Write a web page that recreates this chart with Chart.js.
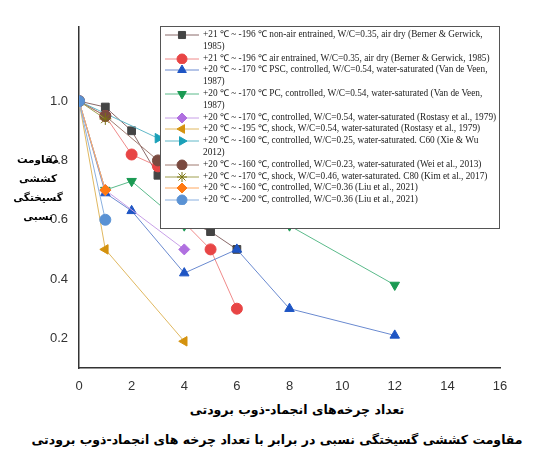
<!DOCTYPE html><html><head><meta charset="utf-8">
<script src="https://cdn.jsdelivr.net/npm/chart.js@4"></script>
<style>
body{margin:0;background:#fff;width:554px;height:476px;position:relative;font-family:"Liberation Serif",serif;overflow:hidden}
#wrap{position:absolute;left:0;top:0;width:554px;height:400px}
#leg{position:absolute;left:160px;top:26px;width:340px;height:203px;border:1px solid #555;background:#fff;box-sizing:border-box;font-size:9.3px;color:#222;padding:2px 2px 0 0}
.it{display:flex;align-items:flex-start;line-height:11.8px}
.sw{width:42px;flex:none;height:11px}
.yl{position:absolute;left:8px;top:150px;width:60px;text-align:center;font-family:"DejaVu Sans";font-weight:bold;font-size:10.5px;line-height:19px;direction:rtl}
.xt{position:absolute;left:0;width:554px;text-align:center;font-family:"DejaVu Sans";font-weight:bold;direction:rtl}
</style></head><body>
<div id="wrap"><canvas id="c" width="554" height="400"></canvas></div>
<div class="yl">مقاومت<br>کششی<br>گسیختگی<br>نسبی</div>
<div class="xt" style="top:402px;font-size:12.5px;left:20px">تعداد چرخه‌های انجماد-ذوب برودتی</div>
<div class="xt" style="top:432px;font-size:12.5px">مقاومت کششی گسیختگی نسبی در برابر با تعداد چرخه های انجماد-ذوب برودتی</div>
<div id="leg"></div>
<script>
const labels=["+21 ℃ ~ -196 ℃ non-air entrained, W/C=0.35, air dry (Berner & Gerwick, 1985)",
"+21 ℃ ~ -196 ℃ air entrained, W/C=0.35, air dry (Berner & Gerwick, 1985)",
"+20 ℃ ~ -170 ℃ PSC,  controlled, W/C=0.54, water-saturated (Van de Veen, 1987)",
"+20 ℃ ~ -170 ℃ PC, controlled, W/C=0.54, water-saturated (Van de Veen, 1987)",
"+20 ℃ ~ -170 ℃, controlled,  W/C=0.54, water-saturated (Rostasy et al., 1979)",
"+20 ℃ ~ -195 ℃, shock, W/C=0.54, water-saturated  (Rostasy et al., 1979)",
"+20 ℃ ~ -160 ℃, controlled, W/C=0.25, water-saturated.  C60 (Xie & Wu 2012)",
"+20 ℃ ~ -160 ℃, controlled, W/C=0.23, water-saturated (Wei et al., 2013)",
"+20 ℃ ~ -170 ℃, shock, W/C=0.46, water-saturated. C80 (Kim et al., 2017)",
"+20 ℃ ~ -160 ℃, controlled, W/C=0.36 (Liu et al., 2021)",
"+20 ℃ ~ -200 ℃, controlled, W/C=0.36 (Liu et al., 2021)"];
const xs1=[0,1,2,3,4,5,6], ys1=[1.0,0.98,0.9,0.75,0.6,0.56,0.5];
const xs2=[0,1,2,3,4,5,6], ys2=[1.0,0.95,0.82,0.78,0.59,0.5,0.3];
const xs3=[0,1,2,4,6,8,12], ys3=[1.0,0.69,0.63,0.42,0.5,0.3,0.21];
const xs4=[0,1,2,4,6,8,12], ys4=[1.0,0.70,0.73,0.58,0.59,0.58,0.38];
const xs5=[0,1,4], ys5=[1.0,0.70,0.5];
const xs6=[0,1,4], ys6=[1.0,0.5,0.19];
const xs7=[0,3], ys7=[1.0,0.875];
const xs8=[0,1,3,4], ys8=[1.0,0.95,0.8,0.6];
const xs9=[0,1], ys9=[1.0,0.94];
const xs10=[0,1], ys10=[1.0,0.70];
const xs11=[0,1], ys11=[1.0,0.6];
const XS=[xs1,xs2,xs3,xs4,xs5,xs6,xs7,xs8,xs9,xs10,xs11], YS=[ys1,ys2,ys3,ys4,ys5,ys6,ys7,ys8,ys9,ys10,ys11];
const cols=["#444444","#e84545","#1e55c4","#1a9a52","#b070e0","#d4920e","#1aa0b8","#7a4a40","#7a7412","#ff7a12","#5a92d4"];
const lcols=["#8a6a6a","#f08a8a","#6a8ad0","#5aba8a","#c8a0e8","#e0b860","#60b8c8","#a07a70","#a0a050","#ffa860","#8ab0e0"];
const shapes=["rect","circle","triangle","triangle","rectRot","triangle","triangle","circle","star","rectRot","circle"];
const rots=[0,0,0,180,0,-90,90,0,0,0,0];
const ds=XS.map((x,i)=>({label:labels[i],data:x.map((v,j)=>({x:v,y:YS[i][j]})),borderColor:lcols[i],backgroundColor:cols[i],pointBorderColor:cols[i],pointStyle:shapes[i],rotation:rots[i],pointRadius:shapes[i]==="star"?6:5.5,borderWidth:1,showLine:true})).reverse();
new Chart(document.getElementById('c'),{type:'scatter',data:{datasets:ds},options:{responsive:false,animation:false,devicePixelRatio:1,
layout:{padding:{top:27,right:54}},
plugins:{legend:{display:false},tooltip:{enabled:false}},
scales:{x:{min:0,max:16,afterFit:a=>{a.height=32},grid:{display:false,drawTicks:true},border:{color:'#333',width:1.5},ticks:{stepSize:2,color:'#333',font:{family:'Liberation Sans',size:13}}},
y:{min:0.1,max:1.25,afterFit:a=>{a.width=79},grid:{display:false},border:{color:'#333',width:1.5},ticks:{color:'#333',font:{family:'Liberation Sans',size:13},callback:v=>[0.2,0.4,0.6,0.8,1.0,1.2].some(t=>Math.abs(t-v)<1e-6)?v.toFixed(1):null,stepSize:0.1}}}}});
const leg=document.getElementById('leg');
labels.forEach((l,i)=>{const d=document.createElement('div');d.className='it';
const c=document.createElement('canvas');c.width=42;c.height=11;c.className='sw';const g=c.getContext('2d');
g.strokeStyle=lcols[i];g.lineWidth=1;g.beginPath();g.moveTo(4,6);g.lineTo(38,6);g.stroke();
g.fillStyle=cols[i];g.strokeStyle=cols[i];
Chart.helpers.drawPoint(g,{pointStyle:shapes[i],rotation:rots[i],radius:5,borderWidth:1},21,6);
const s=document.createElement('span');s.textContent=l;d.appendChild(c);d.appendChild(s);leg.appendChild(d);});
</script></body></html>
